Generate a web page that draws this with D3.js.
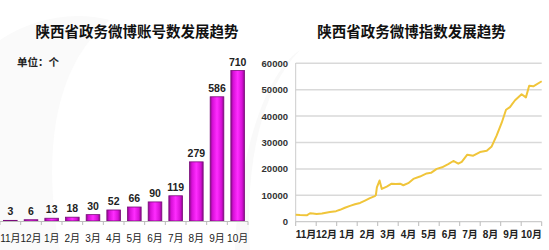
<!DOCTYPE html>
<html><head><meta charset="utf-8">
<script src="https://cdn.jsdelivr.net/npm/d3@7"></script>
<style>
html,body{margin:0;padding:0;background:#fff;}
svg{display:block;}
</style></head>
<body>
<svg id="c" width="549" height="250"></svg>
<script>
// ---- Data ----
const accountMonths = ["11月","12月","1月","2月","3月","4月","5月","6月","7月","8月","9月","10月"];
const accountValues = [3, 6, 13, 18, 30, 52, 66, 90, 119, 279, 586, 710];

const indexMonthLabels = ["11月","12月","1月","2月","3月","4月","5月","6月","7月","8月","9月","10月"];
const indexYTicks = [0, 10000, 20000, 30000, 40000, 50000, 60000];
// time position measured in months since start of 11月
const indexT = [0.0,0.21,0.54,0.70,0.84,1.02,1.28,1.67,1.97,2.16,2.40,2.65,2.89,3.14,3.38,3.62,3.86,3.91,3.96,4.09,4.20,4.44,4.68,4.89,5.09,5.25,5.49,5.74,6.06,6.39,6.60,6.88,7.14,7.44,7.69,7.93,8.10,8.37,8.66,8.99,9.32,9.56,9.80,10.05,10.26,10.45,10.70,11.02,11.23,11.39,11.59,12.0];
const indexValues = [2600,2500,2400,3200,3100,2900,3100,3700,4000,4500,5300,6000,6600,7100,8000,8900,9700,10100,13000,15600,12400,13300,14400,14300,14400,13800,14600,16200,17100,18300,18500,20000,20600,21800,23000,22000,22700,25400,25000,26400,26900,28500,32600,37500,42400,43400,46000,48300,47100,51500,51300,53200];

const titleLeft = "陕西省政务微博账号数发展趋势";
const titleRight = "陕西省政务微博指数发展趋势";
const unitLabel = "单位：个";

const svg = d3.select("#c");
const cjk = "'Noto Sans CJK SC','Noto Sans',sans-serif";
const latin = "Arial,'Liberation Sans','Noto Sans CJK SC',sans-serif";

// ---- defs ----
const defs = svg.append("defs");
const g = defs.append("linearGradient").attr("id","barGrad").attr("x1","0").attr("x2","1").attr("y1","0").attr("y2","0");
[["0%","#8a0a8a"],["18%","#d810d8"],["50%","#ff2cff"],["82%","#d810d8"],["100%","#8a0a8a"]].forEach(([o,c])=>g.append("stop").attr("offset",o).attr("stop-color",c));

// faint background swoosh
svg.append("path").attr("d","M0,250 L0,40 C30,20 70,10 110,20 C60,60 40,140 60,250 Z").attr("fill","#fafafa");
svg.append("path").attr("d","M250,250 C245,160 262,90 300,50 C270,70 240,140 235,250 Z").attr("fill","#f9f9f9");

// ---- Left chart ----
const xL = d3.scaleBand().domain(accountMonths).range([0, 248]).paddingInner(0.34).paddingOuter(0.17);
const yL = d3.scaleLinear().domain([0, 710]).range([221, 70.5]);

svg.append("text").attr("x",137).attr("y",37).attr("text-anchor","middle")
  .attr("font-family",cjk).attr("font-weight","bold").attr("font-size",14.5).attr("fill","#111").text(titleLeft);
svg.append("text").attr("x",17).attr("y",66)
  .attr("font-family",cjk).attr("font-weight","bold").attr("font-size",10.5).attr("fill","#222").text(unitLabel);

svg.append("g").selectAll("rect").data(accountValues).join("rect")
  .attr("x",(d,i)=>xL(accountMonths[i]))
  .attr("width",xL.bandwidth())
  .attr("y",d=>yL(d))
  .attr("height",d=>yL(0)-yL(d))
  .attr("fill","url(#barGrad)")
  .attr("stroke","#7a0a7a").attr("stroke-width",0.8);

svg.append("g").selectAll("text").data(accountValues).join("text")
  .attr("x",(d,i)=>xL(accountMonths[i])+xL.bandwidth()/2)
  .attr("y",d=>yL(d)-5)
  .attr("text-anchor","middle").attr("font-family",latin).attr("font-weight","bold")
  .attr("font-size",10.5).attr("fill","#222").text(d=>d);

// x axis left
const axL = svg.append("g");
axL.append("line").attr("x1",0).attr("x2",248).attr("y1",221.5).attr("y2",221.5).attr("stroke","#bbb");
const stepL = xL.step();
const bL = d3.range(accountMonths.length+1).map(i=>xL(accountMonths[0]) - xL.step()*xL.paddingInner()/2 + i*stepL);
axL.selectAll("line.t").data(bL).join("line").attr("class","t")
  .attr("x1",d=>d).attr("x2",d=>d).attr("y1",221.5).attr("y2",225).attr("stroke","#bbb");
axL.selectAll("text").data(accountMonths).join("text")
  .attr("x",d=>xL(d)+xL.bandwidth()/2).attr("y",242)
  .attr("text-anchor","middle").attr("font-family",latin).attr("font-size",10).attr("fill","#222").text(d=>d);

// ---- Right chart ----
const xR = d3.scaleLinear().domain([0,12]).range([295.7, 541.7]);
const yR = d3.scaleLinear().domain([0,60000]).range([221.7, 63.3]);

svg.append("text").attr("x",411.5).attr("y",37).attr("text-anchor","middle")
  .attr("font-family",cjk).attr("font-weight","bold").attr("font-size",14.5).attr("fill","#111").text(titleRight);

const gr = svg.append("g");
gr.selectAll("line.grid").data(indexYTicks.filter(d=>d>0)).join("line").attr("class","grid")
  .attr("x1",295.7).attr("x2",541.7).attr("y1",d=>yR(d)).attr("y2",d=>yR(d))
  .attr("stroke","#d9d9d9").attr("stroke-width",1.5);
gr.selectAll("text.yt").data(indexYTicks).join("text").attr("class","yt")
  .attr("x",288).attr("y",d=>yR(d)+3.5).attr("text-anchor","end")
  .attr("font-family",latin).attr("font-weight","bold").attr("font-size",9.5).attr("fill","#333").text(d=>d);
gr.append("line").attr("x1",295.7).attr("x2",295.7).attr("y1",63).attr("y2",222).attr("stroke","#ccc");
gr.append("line").attr("x1",295.7).attr("x2",541.7).attr("y1",221.7).attr("y2",221.7).attr("stroke","#ccc").attr("stroke-width",1.2);
gr.selectAll("line.xt").data(d3.range(13)).join("line").attr("class","xt")
  .attr("x1",d=>xR(d)).attr("x2",d=>xR(d)).attr("y1",221.7).attr("y2",226).attr("stroke","#bbb");
gr.selectAll("text.xl").data(indexMonthLabels).join("text").attr("class","xl")
  .attr("x",(d,i)=>xR(i+0.5)).attr("y",238).attr("text-anchor","middle")
  .attr("font-family",latin).attr("font-weight","bold").attr("font-size",10).attr("fill","#222").text(d=>d);

const line = d3.line().x((d,i)=>xR(indexT[i])).y(d=>yR(d)).curve(d3.curveLinear);
gr.append("path").attr("d",line(indexValues)).attr("fill","none")
  .attr("stroke","#f0c53a").attr("stroke-width",2).attr("stroke-linejoin","round");
</script>
</body></html>
